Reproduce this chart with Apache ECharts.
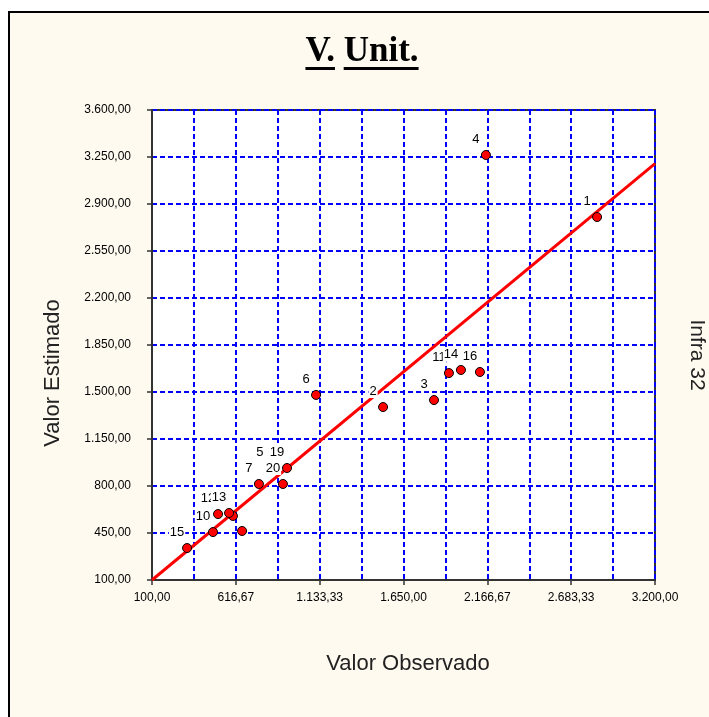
<!DOCTYPE html>
<html>
<head>
<meta charset="utf-8">
<script src="https://cdn.jsdelivr.net/npm/echarts@6/dist/echarts.min.js"></script>
<style>
html,body{margin:0;padding:0;background:#fff;}
#c{width:709px;height:717px;}
</style>
</head>
<body>
<div id="c"></div>
<script>
// ---- data ----
var chartTitle = 'V. Unit.';
var xAxisName = 'Valor Observado';
var yAxisName = 'Valor Estimado';
var sideText = 'Infra 32';
var pointLabels = ['1','2','3','4','5','6','7','','','10','11','12','13','14','15','16','19','20'];
var observed   = [2843,1524,1838,2158, 827,1111, 759, 599, 655, 476,1930, 507, 575,2004, 316,2121, 932, 907];
var estimated  = [2803,1388,1440,3265, 934,1478, 815, 577, 465, 457,1641, 591, 599,1664, 338,1649, 934, 815];
var refLineX = [100, 3200];
var refLineY = [100, 3200];
var xMin = 100, xMax = 3200, xStep = 3100 / 6;
var yMin = 100, yMax = 3600, yStep = 350;

function fmtBR(v){
  var neg = v < 0; v = Math.abs(v);
  var s = (Math.round(v*100)/100).toFixed(2);
  var parts = s.split('.');
  var ip = parts[0].replace(/\B(?=(\d{3})+(?!\d))/g, '.');
  return (neg?'-':'') + ip + ',' + parts[1];
}

var pts = observed.map(function(x,i){ return {value:[x, estimated[i]], name: pointLabels[i], label:{show: pointLabels[i] !== ''}}; });
var linePts = refLineX.map(function(x,i){ return [x, refLineY[i]]; });

var chart = echarts.init(document.getElementById('c'), null, {renderer:'canvas'});

// measure title pieces for underline
var cv = document.createElement('canvas').getContext('2d');
var titleFont = 'bold 35px "Liberation Serif", "Times New Roman", serif';
cv.font = titleFont;
var tParts = chartTitle.split(' ');
var wA = cv.measureText(tParts[0]).width, wS = cv.measureText(' ').width, wB = cv.measureText(tParts[1]).width;
var tW = wA + wS + wB, tCx = 362, tX0 = tCx - tW/2, ulY = 67;

var nameFontCss = '22px "Liberation Sans", Arial, sans-serif';
function axisFont(){ return {fontFamily:'"Liberation Sans", Arial, sans-serif', fontSize:12, color:'#000'}; }
function gridLine(){ return {show:true, lineStyle:{color:'#0000FF', type:[5,3], width:2, opacity:1}}; }

chart.setOption({
  backgroundColor:'#fff',
  animation:false,
  graphic:[
    {type:'rect', z:-10, shape:{x:9, y:12, width:760, height:760}, style:{fill:'#FFFAF0', stroke:'#000', lineWidth:2}},
    {type:'text', z:10, x:tX0, y:52, style:{text:chartTitle, font:titleFont, fill:'#000', textVerticalAlign:'middle', textAlign:'left'}},
    {type:'rect', z:10, shape:{x:tX0, y:ulY, width:wA, height:3}, style:{fill:'#000'}},
    {type:'rect', z:10, shape:{x:tX0+wA+wS, y:ulY, width:wB, height:3}, style:{fill:'#000'}},
    {type:'text', z:10, x:697, y:355, rotation:-Math.PI/2, style:{text:sideText, font:'21px "Liberation Sans", Arial, sans-serif', fill:'#222', textAlign:'center', textVerticalAlign:'middle'}},
    {type:'text', z:10, x:408, y:664, style:{text:xAxisName, font:nameFontCss, fill:'#222', textAlign:'center', textVerticalAlign:'middle'}},
    {type:'text', z:10, x:53, y:373, rotation:Math.PI/2, style:{text:yAxisName, font:nameFontCss, fill:'#222', textAlign:'center', textVerticalAlign:'middle'}}
  ],
  grid:{left:152, right:54, top:110, bottom:137, show:true, backgroundColor:'#fff', borderColor:'#333', borderWidth:2, containLabel:false},
  xAxis:{
    type:'value', min:xMin, max:xMax, interval:xStep,
    axisLine:{show:true, lineStyle:{color:'#333', width:2}},
    axisTick:{show:true, length:5, lineStyle:{color:'#333', width:1.5}},
    axisLabel:Object.assign({margin:12, formatter:function(v){return fmtBR(v);}}, axisFont()),
    splitLine:gridLine(),
    minorTick:{show:false, splitNumber:2},
    minorSplitLine:gridLine()
  },
  yAxis:{
    type:'value', min:yMin, max:yMax, interval:yStep,
    axisLine:{show:true, lineStyle:{color:'#333', width:2}},
    axisTick:{show:true, length:5, lineStyle:{color:'#333', width:1.5}},
    axisLabel:Object.assign({margin:21, formatter:function(v){return fmtBR(v);}}, axisFont()),
    splitLine:gridLine()
  },
  series:[
    {type:'line', data:linePts, symbol:'none', silent:true, z:2,
     lineStyle:{color:'#FF0000', width:3}},
    {type:'scatter', data:pts, symbol:'circle', symbolSize:9, z:3,
     itemStyle:{color:'#FF0000', borderColor:'#000', borderWidth:1, opacity:1},
     label:{show:true, position:'top', offset:[-10,1], formatter:'{b}',
       fontFamily:'"Liberation Sans", Arial, sans-serif', fontSize:13, color:'#000', opacity:1,
       backgroundColor:'#fff', padding:[0,1]}}
  ]
});
</script>
</body>
</html>
